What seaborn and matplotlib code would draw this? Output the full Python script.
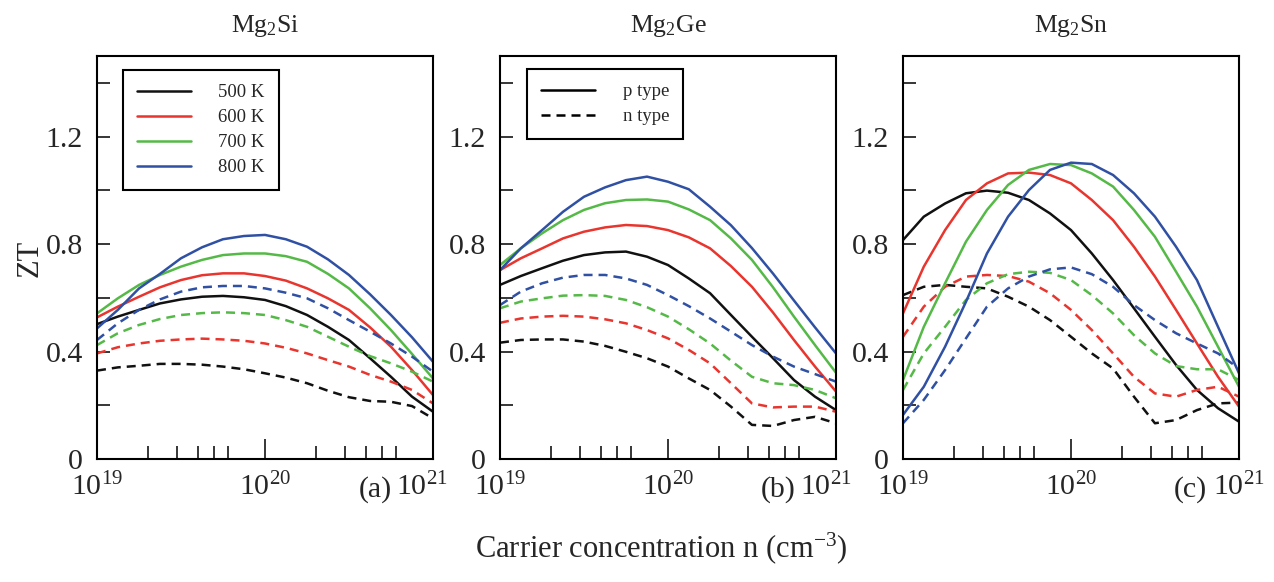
import numpy as np
import pandas as pd
import matplotlib
matplotlib.use("Agg")
import matplotlib.pyplot as plt
from matplotlib.lines import Line2D
from matplotlib.ticker import FixedLocator, FuncFormatter, NullFormatter
from matplotlib.transforms import ScaledTranslation
import seaborn as sns

# ---------------- data ----------------
N_CONC = [1.00e19, 1.33e19, 1.78e19, 2.37e19, 3.16e19, 4.22e19, 5.62e19, 7.50e19,
          1.00e20, 1.33e20, 1.78e20, 2.37e20, 3.16e20, 4.22e20, 5.62e20, 7.50e20, 1.00e21]
TEMPS = ["500 K", "600 K", "700 K", "800 K"]
MATERIALS = ["Mg$_2$Si", "Mg$_2$Ge", "Mg$_2$Sn"]
PANEL_TAGS = ["(a)", "(b)", "(c)"]

# Mg2Si
si_p_500 = [0.502, 0.530, 0.555, 0.579, 0.594, 0.604, 0.607, 0.602, 0.592, 0.569, 0.536, 0.492, 0.443, 0.375, 0.306, 0.232, 0.176]
si_p_600 = [0.527, 0.567, 0.604, 0.639, 0.666, 0.684, 0.691, 0.691, 0.681, 0.664, 0.635, 0.598, 0.555, 0.490, 0.418, 0.331, 0.238]
si_p_700 = [0.542, 0.598, 0.648, 0.685, 0.716, 0.741, 0.759, 0.765, 0.765, 0.755, 0.734, 0.689, 0.635, 0.561, 0.480, 0.391, 0.300]
si_p_800 = [0.486, 0.555, 0.635, 0.689, 0.747, 0.788, 0.818, 0.830, 0.834, 0.818, 0.790, 0.743, 0.685, 0.613, 0.536, 0.453, 0.362]
si_n_500 = [0.329, 0.341, 0.347, 0.354, 0.354, 0.351, 0.344, 0.334, 0.319, 0.303, 0.282, 0.254, 0.230, 0.216, 0.213, 0.197, 0.151]
si_n_600 = [0.393, 0.416, 0.430, 0.440, 0.445, 0.448, 0.445, 0.440, 0.430, 0.414, 0.393, 0.368, 0.344, 0.313, 0.288, 0.257, 0.207]
si_n_700 = [0.424, 0.468, 0.499, 0.521, 0.536, 0.543, 0.546, 0.543, 0.536, 0.517, 0.492, 0.455, 0.418, 0.383, 0.356, 0.325, 0.288]
si_n_800 = [0.443, 0.505, 0.555, 0.594, 0.623, 0.639, 0.644, 0.644, 0.635, 0.619, 0.598, 0.561, 0.517, 0.474, 0.430, 0.381, 0.325]

# Mg2Ge
ge_p_500 = [0.648, 0.681, 0.710, 0.738, 0.759, 0.769, 0.772, 0.753, 0.722, 0.672, 0.617, 0.536, 0.455, 0.375, 0.294, 0.232, 0.182]
ge_p_600 = [0.703, 0.747, 0.784, 0.821, 0.846, 0.862, 0.871, 0.867, 0.852, 0.825, 0.784, 0.718, 0.641, 0.545, 0.443, 0.344, 0.251]
ge_p_700 = [0.722, 0.784, 0.840, 0.889, 0.927, 0.952, 0.964, 0.966, 0.958, 0.929, 0.889, 0.821, 0.741, 0.639, 0.530, 0.424, 0.321]
ge_p_800 = [0.703, 0.784, 0.852, 0.920, 0.976, 1.011, 1.038, 1.051, 1.032, 1.004, 0.939, 0.870, 0.785, 0.690, 0.590, 0.490, 0.393]
ge_n_500 = [0.433, 0.443, 0.445, 0.445, 0.437, 0.421, 0.399, 0.375, 0.344, 0.300, 0.257, 0.195, 0.127, 0.123, 0.145, 0.157, 0.133]
ge_n_600 = [0.507, 0.523, 0.530, 0.533, 0.530, 0.520, 0.505, 0.480, 0.449, 0.406, 0.356, 0.282, 0.207, 0.192, 0.195, 0.195, 0.176]
ge_n_700 = [0.561, 0.586, 0.598, 0.608, 0.610, 0.607, 0.592, 0.565, 0.530, 0.483, 0.430, 0.366, 0.306, 0.282, 0.275, 0.257, 0.226]
ge_n_800 = [0.573, 0.623, 0.654, 0.675, 0.685, 0.685, 0.672, 0.648, 0.610, 0.569, 0.523, 0.474, 0.424, 0.381, 0.344, 0.316, 0.288]

# Mg2Sn
sn_p_500 = [0.815, 0.902, 0.951, 0.989, 0.999, 0.991, 0.964, 0.914, 0.852, 0.765, 0.666, 0.561, 0.455, 0.350, 0.257, 0.189, 0.139]
sn_p_600 = [0.542, 0.716, 0.852, 0.964, 1.026, 1.063, 1.066, 1.057, 1.026, 0.964, 0.889, 0.790, 0.679, 0.555, 0.430, 0.306, 0.195]
sn_p_700 = [0.294, 0.492, 0.654, 0.809, 0.927, 1.020, 1.076, 1.098, 1.094, 1.063, 1.014, 0.927, 0.827, 0.697, 0.567, 0.418, 0.269]
sn_p_800 = [0.164, 0.269, 0.418, 0.585, 0.765, 0.902, 1.001, 1.076, 1.103, 1.098, 1.057, 0.989, 0.902, 0.790, 0.666, 0.492, 0.319]
sn_n_500 = [0.610, 0.641, 0.648, 0.641, 0.635, 0.604, 0.567, 0.517, 0.455, 0.393, 0.337, 0.232, 0.133, 0.145, 0.182, 0.207, 0.210]
sn_n_600 = [0.455, 0.567, 0.641, 0.679, 0.685, 0.681, 0.660, 0.617, 0.555, 0.480, 0.393, 0.306, 0.244, 0.232, 0.257, 0.269, 0.232]
sn_n_700 = [0.257, 0.393, 0.492, 0.592, 0.654, 0.688, 0.697, 0.693, 0.666, 0.610, 0.542, 0.461, 0.393, 0.346, 0.334, 0.334, 0.294]
sn_n_800 = [0.133, 0.220, 0.331, 0.449, 0.567, 0.635, 0.679, 0.706, 0.713, 0.688, 0.641, 0.573, 0.517, 0.468, 0.430, 0.393, 0.337]

SERIES = {
    "Mg$_2$Si": {"p": [si_p_500, si_p_600, si_p_700, si_p_800],
                 "n": [si_n_500, si_n_600, si_n_700, si_n_800]},
    "Mg$_2$Ge": {"p": [ge_p_500, ge_p_600, ge_p_700, ge_p_800],
                 "n": [ge_n_500, ge_n_600, ge_n_700, ge_n_800]},
    "Mg$_2$Sn": {"p": [sn_p_500, sn_p_600, sn_p_700, sn_p_800],
                 "n": [sn_n_500, sn_n_600, sn_n_700, sn_n_800]},
}

rows = []
for mat in MATERIALS:
    for typ in ["p", "n"]:
        for temp, vals in zip(TEMPS, SERIES[mat][typ]):
            for n, zt in zip(N_CONC, vals):
                rows.append({"material": mat, "type": typ, "T": temp, "n": n, "ZT": zt})
df = pd.DataFrame(rows)

# ---------------- styling ----------------
sns.set_style("white")
plt.rcParams["font.family"] = ["Liberation Serif", "DejaVu Serif"]
plt.rcParams["mathtext.fontset"] = "custom"
plt.rcParams["mathtext.rm"] = "Liberation Serif"
plt.rcParams["mathtext.it"] = "Liberation Serif:italic"
plt.rcParams["mathtext.bf"] = "Liberation Serif:bold"

PALETTE = {"500 K": "#111111", "600 K": "#e8352e", "700 K": "#55b947", "800 K": "#2f50a3"}
DASHES = {"p": "", "n": (3.6, 2.4)}
LW = 1.8

fig = plt.figure(figsize=(12.74, 5.82), dpi=100)
W, H = 1274, 582
lefts = [97, 500, 903]
ax_w = 336
top_px, bot_px = 56, 459
axes = []
for i, l in enumerate(lefts):
    ax = fig.add_axes([l / W, (H - bot_px) / H, ax_w / W, (bot_px - top_px) / H])
    axes.append(ax)

TAG_X = [0.878, 0.880, 0.905]
LAST_SHIFT = [-11, -10, 0]

for i, (ax, mat) in enumerate(zip(axes, MATERIALS)):
    sub = df[df["material"] == mat]
    sns.lineplot(data=sub, x="n", y="ZT", hue="T", style="type",
                 palette=PALETTE, dashes=DASHES, hue_order=TEMPS,
                 style_order=["p", "n"], linewidth=LW, ax=ax, legend=False,
                 estimator=None, sort=True)
    ax.set_xscale("log")
    ax.set_xlim(1e19, 1e21)
    ax.set_ylim(0, 1.5)
    ax.set_xlabel("")
    ax.set_ylabel("")
    for s in ax.spines.values():
        s.set_linewidth(1.5)
        s.set_color("black")
    ax.xaxis.set_major_locator(FixedLocator([1e19, 1e20, 1e21]))
    ax.xaxis.set_minor_locator(FixedLocator([2e19, 3e19, 4e19, 5e19, 6e19,
                                             2e20, 3e20, 4e20, 5e20, 6e20]))
    ax.xaxis.set_major_formatter(FuncFormatter(lambda v, p: "$10^{%d}$" % round(np.log10(v))))
    ax.xaxis.set_minor_formatter(NullFormatter())
    ax.yaxis.set_major_locator(FixedLocator([0, 0.2, 0.4, 0.6, 0.8, 1.0, 1.2, 1.4]))
    ax.yaxis.set_major_formatter(FuncFormatter(
        lambda v, p: {0: "0", 2: "0.4", 4: "0.8", 6: "1.2"}.get(int(round(v * 5)), "")))
    ax.tick_params(axis="x", which="major", direction="in", length=14.5, width=1.3,
                   labelsize=21.5, pad=10, top=False, bottom=True)
    ax.tick_params(axis="x", which="minor", direction="in", length=9.5, width=1.3,
                   top=False, bottom=True)
    ax.tick_params(axis="y", which="major", direction="in", length=9.5, width=1.3,
                   labelsize=21.5, pad=10, left=True, right=False)
    ax.set_title(mat, fontsize=18.5, pad=17)
    ax.text(TAG_X[i], -0.075, PANEL_TAGS[i], transform=ax.transAxes, ha="right",
            va="center", fontsize=21.5)

fig.canvas.draw()
for ax, sh in zip(axes, LAST_SHIFT):
    if sh:
        t = ax.xaxis.get_major_ticks()[-1].label1
        t.set_transform(t.get_transform() + ScaledTranslation(sh / 100, 0, fig.dpi_scale_trans))

# legends
temp_handles = [Line2D([], [], color=PALETTE[t], lw=LW) for t in TEMPS]
leg1 = axes[0].legend(temp_handles, TEMPS, loc="upper left",
                      bbox_to_anchor=(0.077, 0.965), borderaxespad=0,
                      fontsize=13.5, handlelength=2.9, handletextpad=1.45,
                      labelspacing=0.42, borderpad=0.75, fancybox=False,
                      edgecolor="black", framealpha=1)
leg1.get_frame().set_linewidth(1.5)

type_handles = [Line2D([], [], color="black", lw=LW),
                Line2D([], [], color="black", lw=LW, dashes=DASHES["n"])]
leg2 = axes[1].legend(type_handles, ["p type", "n type"], loc="upper left",
                      bbox_to_anchor=(0.08, 0.968), borderaxespad=0,
                      fontsize=13.5, handlelength=2.9, handletextpad=1.45,
                      labelspacing=0.42, borderpad=0.75, fancybox=False,
                      edgecolor="black", framealpha=1)
leg2.get_frame().set_linewidth(1.5)

fig.text(30 / W, 1 - 258 / H, "ZT", rotation=90, ha="center", va="center", fontsize=22)
fig.text(661 / W, 1 - 548 / H, "Carrier concentration n (cm$^{-3}$)", ha="center",
         va="center", fontsize=22)

fig.savefig("out.png", dpi=100)
